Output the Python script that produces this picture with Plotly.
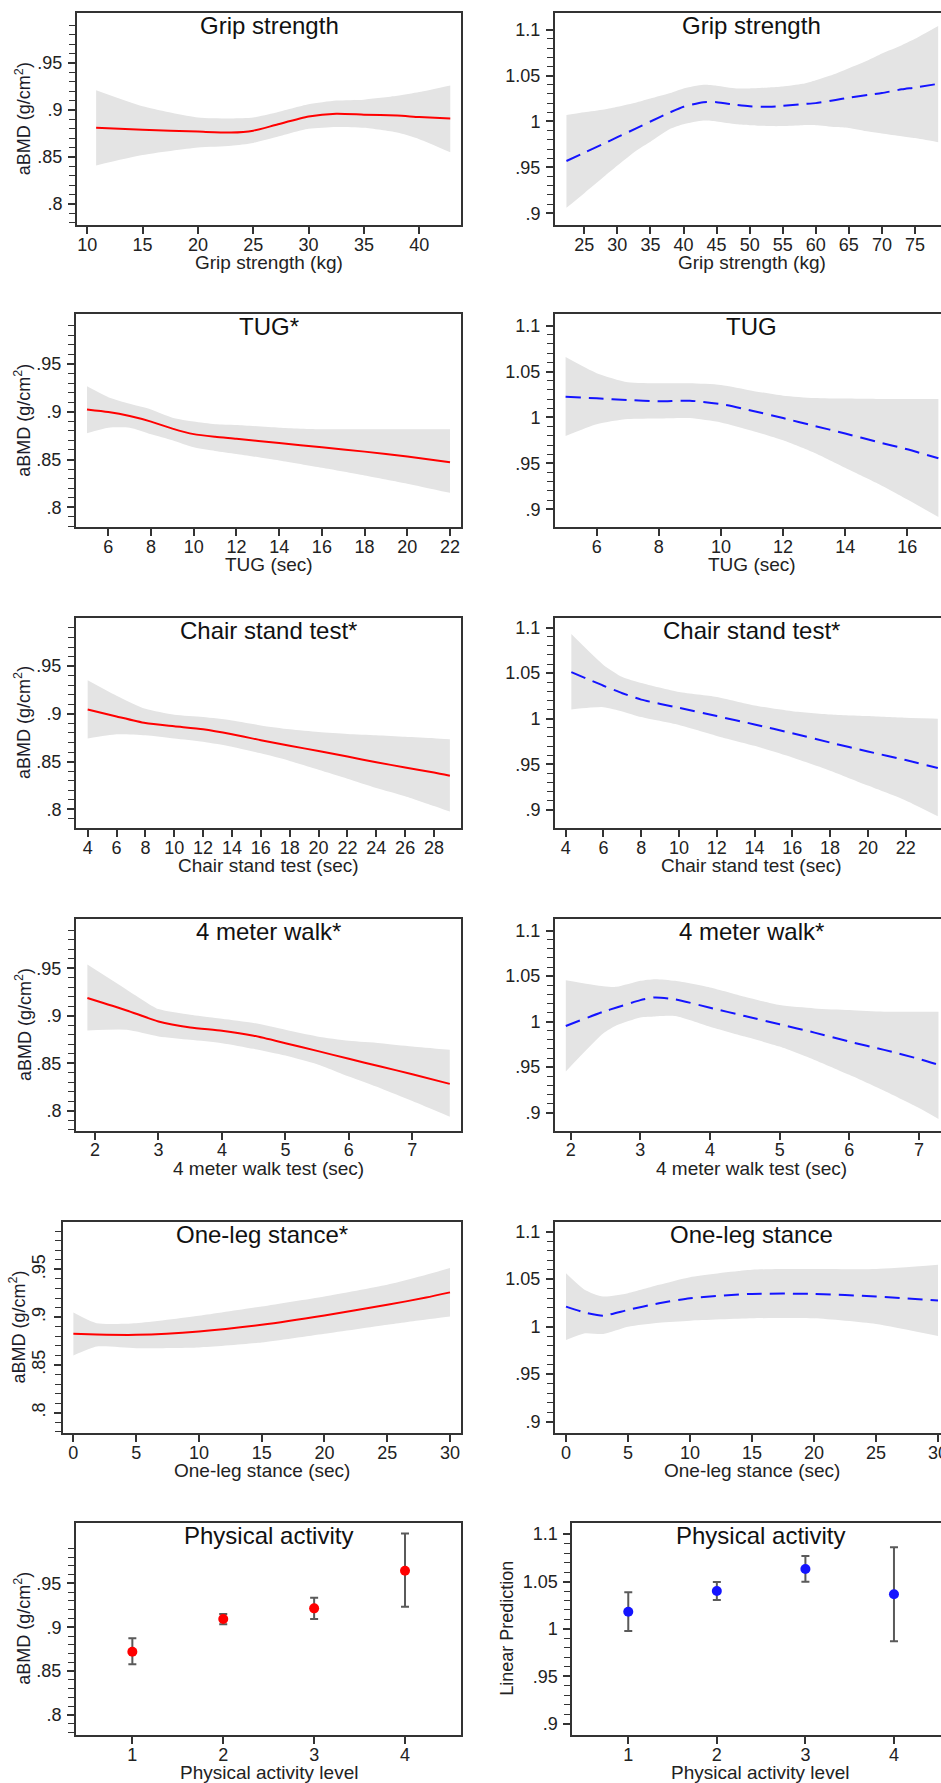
import plotly.graph_objects as go

# ---------------------------------------------------------------- data
# Grip strength
grip_l_x = [10.8, 15, 20, 23, 25, 27, 30, 32.5, 35, 38, 40, 42.8]
grip_l_fit = [.881, .879, .877, .876, .878, .884, .893, .896, .895, .894, .8925, .891]
grip_l_hi = [.921, .904, .892, .891, .892, .897, .906, .910, .911, .915, .919, .926]
grip_l_lo = [.841, .852, .860, .862, .865, .871, .880, .882, .881, .876, .869, .855]

grip_r_x = [22.3, 25, 28, 30, 33, 35, 38, 40, 43, 45, 48, 50, 53, 55, 58, 60, 63, 65, 68, 70, 73, 75, 78.5]
grip_r_fit = [.957, .966, .976, .983, .993, 1.0, 1.010, 1.016, 1.021, 1.021, 1.018, 1.0165, 1.016, 1.017,
              1.019, 1.020, 1.0235, 1.026, 1.029, 1.031, 1.035, 1.037, 1.041]
grip_r_hi = [1.007, 1.010, 1.013, 1.016, 1.021, 1.025, 1.031, 1.036, 1.040, 1.039, 1.036, 1.036, 1.037, 1.038,
             1.041, 1.045, 1.052, 1.058, 1.067, 1.074, 1.083, 1.090, 1.104]
grip_r_lo = [.906, .922, .940, .952, .969, .978, .992, .997, 1.001, 1.000, .997, .996, .995, .995,
             .996, .996, .994, .993, .989, .987, .984, .982, .9775]

# TUG
tug_l_x = [5, 6, 7, 8, 9, 10, 11, 12, 14, 16, 18, 20, 22]
tug_l_fit = [.9024, .8997, .8955, .8897, .8824, .8766, .8738, .8717, .8672, .8628, .8583, .8531, .8472]
tug_l_hi = [.9266, .9152, .9083, .9024, .8938, .8897, .887, .8862, .8834, .8817, .8817, .8817, .8817]
tug_l_lo = [.8776, .8834, .8834, .8766, .8703, .8628, .859, .8559, .849, .8414, .8334, .8248, .8152]

tug_r_x = [5, 6, 7, 8, 9, 10, 11, 12, 13, 14, 15, 16, 17]
tug_r_fit = [1.0226, 1.0208, 1.019, 1.0175, 1.0182, 1.0146, 1.0073, .9993, .9909, .9825, .9737, .9653, .9555]
tug_r_hi = [1.0657, 1.0482, 1.0383, 1.0372, 1.0372, 1.0354, 1.0292, 1.0237, 1.0212, 1.0205, 1.0201, 1.0201, 1.0201]
tug_r_lo = [.9799, .9927, .9982, .9989, .9993, .9945, .9854, .9752, .9617, .9453, .9288, .9106, .8916]

# Chair stand test
chair_l_x = [4, 6, 8, 10, 12, 14, 16, 18, 20, 22, 24, 26, 28, 29.1]
chair_l_fit = [.9045, .8972, .8903, .8869, .8838, .8786, .8724, .8666, .861, .8552, .8493, .8438, .8386, .8352]
chair_l_hi = [.9352, .919, .9052, .899, .8966, .8931, .8879, .8838, .881, .879, .8776, .876, .8745, .8734]
chair_l_lo = [.8741, .8786, .8776, .8741, .8707, .8655, .8586, .8507, .8414, .8321, .8224, .8138, .8035, .7976]

chair_r_x = [4.3, 6, 7, 8, 10, 12, 14, 16, 18, 20, 22, 23.7]
chair_r_fit = [1.0511, 1.0362, 1.028, 1.021, 1.012, 1.0029, .9938, .9841, .9739, .9641, .9547, .946]
chair_r_hi = [1.0928, 1.059, 1.0457, 1.0391, 1.0293, 1.0239, 1.0145, 1.0083, 1.0047, 1.0029, 1.001, 1.0]
chair_r_lo = [1.0101, 1.0127, 1.008, 1.0018, .9931, .9812, .9703, .9576, .9431, .9268, .9105, .8931]

# 4 meter walk
walk_l_x = [1.88, 2.5, 3, 3.5, 4, 4.5, 5, 5.5, 6, 6.5, 7, 7.59]
walk_l_fit = [.9187, .9056, .894, .8877, .8842, .8789, .8711, .863, .8546, .8465, .8384, .8282]
walk_l_hi = [.9539, .9275, .907, .9011, .8968, .8923, .8852, .8782, .8736, .8711, .8676, .8641]
walk_l_lo = [.8845, .8852, .8782, .8746, .8711, .8651, .8581, .8489, .8359, .8236, .8102, .7937]

walk_r_x = [1.93, 2.47, 2.66, 3, 3.21, 3.5, 4, 4.5, 5, 5.5, 6, 6.5, 7, 7.28]
walk_r_fit = [.9953, 1.011, 1.0155, 1.0237, 1.0266, 1.0245, 1.0153, 1.0062, .9971, .988, .9781, .969, .9591, .9526]
walk_r_hi = [1.0456, 1.039, 1.0383, 1.0449, 1.0467, 1.0449, 1.0376, 1.0274, 1.0182, 1.0146, 1.0128, 1.0109, 1.0109, 1.0109]
walk_r_lo = [.9453, .9872, .996, 1.0047, 1.0058, 1.0062, .9945, .9836, .9726, .958, .9416, .9241, .9051, .8931]

# One-leg stance
leg_l_x = [0, 1.86, 5, 10, 15, 20, 25, 28.1, 30]
leg_l_fit = [.8825, .8818, .8815, .885, .892, .9017, .9129, .9205, .9259]
leg_l_hi = [.9049, .8937, .8937, .9014, .9112, .9217, .9339, .9444, .9514]
leg_l_lo = [.8598, .8692, .8675, .8682, .8734, .8825, .892, .8975, .9007]

leg_r_x = [0, 1.53, 3.0, 5, 7.5, 10, 15, 20, 25, 30]
leg_r_fit = [1.0211, 1.0148, 1.0116, 1.0176, 1.0246, 1.0299, 1.0345, 1.0345, 1.0317, 1.0275]
leg_r_hi = [1.0563, 1.0387, 1.0317, 1.0352, 1.044, 1.0521, 1.0599, 1.0606, 1.0606, 1.0651]
leg_r_lo = [.9859, .993, .9923, 1.0, 1.0042, 1.0063, 1.0088, 1.0088, 1.0028, .9901]

# Physical activity
pa_levels = [1, 2, 3, 4]
pa_l_mean = [.8721, .9094, .9215, .9644]
pa_l_lo = [.8577, .9033, .9094, .9234]
pa_l_hi = [.8873, .9151, .9337, 1.0069]
pa_r_mean = [1.0182, 1.0400, 1.0632, 1.0365]
pa_r_lo = [.9979, 1.0305, 1.0498, .9870]
pa_r_hi = [1.0386, 1.0495, 1.0768, 1.0860]

# tick labels
left_yticks = [.8, .85, .9, .95]
left_yticktext = [".8", ".85", ".9", ".95"]
right_yticks = [.9, .95, 1.0, 1.05, 1.1]
right_yticktext = [".9", ".95", "1", "1.05", "1.1"]

panel_titles = ["Grip strength", "Grip strength", "TUG*", "TUG", "Chair stand test*", "Chair stand test*",
                "4 meter walk*", "4 meter walk*", "One-leg stance*", "One-leg stance",
                "Physical activity", "Physical activity"]
x_titles = ["Grip strength (kg)", "TUG (sec)", "Chair stand test (sec)", "4 meter walk test (sec)",
            "One-leg stance (sec)", "Physical activity level"]
y_title_left = "aBMD (g/cm<sup>2</sup>)"
y_title_pa_right = "Linear Prediction"

# ---------------------------------------------------------------- style / geometry
W, H = 941, 1783
FONT = "Liberation Sans, Arial, Helvetica, sans-serif"
AX = "#333333"
BAND = "#e4e4e4"
RED = "#ff0000"
BLUE = "#1414ff"

rows = [(13.3, 225.0), (314.3, 527.3), (617.5, 828.3), (919.3, 1130.7), (1221.7, 1433.3), (1522.7, 1735.0)]
left_L = [77, 76, 76, 76, 62.7, 76]
LEFT_R = 461
right_L = [555, 555, 555, 555, 555, 572.3]
RIGHT_VIRTUAL_R = 948.5

xranges = [
    ([9.07, 43.77], [20.57, 78.93]),
    ([4.486, 22.515], [4.659, 17.084]),
    ([3.191, 29.871], [3.435, 23.870]),
    ([1.7007, 7.767], [1.775, 7.316]),
    ([-0.850, 30.876], [-0.887, 30.24]),
    ([0.380, 4.616], [0.368, 4.531]),
]
yranges = [
    ([0.7777, 1.0028], [0.8873, 1.1178]),
    ([0.7791, 1.0020], [0.8804, 1.1123]),
    ([0.7801, 1.0009], [0.8799, 1.1110]),
    ([0.7789, 1.0016], [0.8802, 1.1125]),
    ([0.7784, 0.9999], [0.8877, 1.1105]),
    ([0.7772, 1.0191], [0.8884, 1.1119]),
]
xticks = [
    ((10, 5), (25, 5)),
    ((6, 2), (6, 2)),
    ((4, 2), (4, 2)),
    ((2, 1), (2, 1)),
    ((0, 5), (0, 5)),
    ((1, 1), (1, 1)),
]

left_minor = [round(0.78 + 0.01 * i, 2) for i in range(22)]
right_minor = [round(0.90 + 0.01 * i, 2) for i in range(21)]

curves = [
    ((grip_l_x, grip_l_fit, grip_l_lo, grip_l_hi), (grip_r_x, grip_r_fit, grip_r_lo, grip_r_hi)),
    ((tug_l_x, tug_l_fit, tug_l_lo, tug_l_hi), (tug_r_x, tug_r_fit, tug_r_lo, tug_r_hi)),
    ((chair_l_x, chair_l_fit, chair_l_lo, chair_l_hi), (chair_r_x, chair_r_fit, chair_r_lo, chair_r_hi)),
    ((walk_l_x, walk_l_fit, walk_l_lo, walk_l_hi), (walk_r_x, walk_r_fit, walk_r_lo, walk_r_hi)),
    ((leg_l_x, leg_l_fit, leg_l_lo, leg_l_hi), (leg_r_x, leg_r_fit, leg_r_lo, leg_r_hi)),
]


def px(x):
    return x / W


def py(y):
    return 1 - y / H


fig = go.Figure()
layout = dict(
    width=W, height=H, margin=dict(l=0, r=0, t=0, b=0, autoexpand=False),
    paper_bgcolor="white", plot_bgcolor="white", showlegend=False,
    font=dict(family=FONT, color="#222222"),
)
annotations = []

n = 0
for r in range(6):
    top, bot = rows[r]
    for side in range(2):
        n += 1
        xa = "x" if n == 1 else f"x{n}"
        ya = "y" if n == 1 else f"y{n}"
        if side == 0:
            L, R = left_L[r], LEFT_R
            cx = (L + R) / 2
        else:
            L, R = right_L[r], W
            cx = (L + RIGHT_VIRTUAL_R) / 2
        t0, dt = xticks[r][side]
        layout["xaxis" if n == 1 else f"xaxis{n}"] = dict(
            domain=[px(L), px(R)], anchor=ya, range=xranges[r][side],
            tickmode="linear", tick0=t0, dtick=dt,
            ticks="outside", ticklen=7, tickwidth=1.5, tickcolor=AX,
            ticklabelstandoff=-5, ticklabeloverflow="allow",
            showline=True, linewidth=2, linecolor=AX, mirror=True,
            showgrid=False, zeroline=False,
            tickfont=dict(size=18, color="#222222", family=FONT),
        )
        ya_dict = dict(
            domain=[py(bot), py(top)], anchor=xa, range=yranges[r][side],
            tickmode="array",
            tickvals=left_yticks if side == 0 else right_yticks,
            ticktext=left_yticktext if side == 0 else right_yticktext,
            ticks="outside", ticklen=7, tickwidth=1.5, tickcolor=AX,
            ticklabelstandoff=2,
            minor=dict(tickvals=left_minor if side == 0 else right_minor, ticks="outside",
                       ticklen=6, tickwidth=1.2, tickcolor=AX, showgrid=False),
            showline=True, linewidth=2, linecolor=AX, mirror=(side == 0),
            showgrid=False, zeroline=False,
            tickfont=dict(size=18, color="#222222", family=FONT),
        )
        if r == 4 and side == 0:
            ya_dict["tickangle"] = -90
        layout["yaxis" if n == 1 else f"yaxis{n}"] = ya_dict

        # data traces
        if r < 5:
            cx_, fit, lo, hi = curves[r][side]
            fig.add_trace(go.Scatter(x=cx_, y=lo, xaxis=xa, yaxis=ya, mode="lines",
                                     line=dict(width=0, shape="spline", smoothing=0.6),
                                     hoverinfo="skip"))
            fig.add_trace(go.Scatter(x=cx_, y=hi, xaxis=xa, yaxis=ya, mode="lines", fill="tonexty",
                                     fillcolor=BAND, line=dict(width=0, shape="spline", smoothing=0.6),
                                     hoverinfo="skip"))
            if side == 0:
                ln = dict(color=RED, width=2, shape="spline", smoothing=0.6)
            else:
                ln = dict(color=BLUE, width=2, dash="15px,8px", shape="spline", smoothing=0.6)
            fig.add_trace(go.Scatter(x=cx_, y=fit, xaxis=xa, yaxis=ya, mode="lines", line=ln))
        else:
            mean = pa_l_mean if side == 0 else pa_r_mean
            lo = pa_l_lo if side == 0 else pa_r_lo
            hi = pa_l_hi if side == 0 else pa_r_hi
            fig.add_trace(go.Scatter(
                x=pa_levels, y=mean, xaxis=xa, yaxis=ya, mode="markers",
                marker=dict(color=RED if side == 0 else BLUE, size=10),
                error_y=dict(type="data", symmetric=False,
                             array=[h - m for h, m in zip(hi, mean)],
                             arrayminus=[m - l for m, l in zip(mean, lo)],
                             color="#5a5a5a", thickness=2, width=4),
            ))

        # panel title
        annotations.append(dict(text=panel_titles[n - 1], x=px(cx), y=py(top + 12.5), xref="paper", yref="paper",
                                xanchor="center", yanchor="middle", showarrow=False,
                                font=dict(size=24, color="#111111", family=FONT)))
        # x title
        annotations.append(dict(text=x_titles[r], x=px(cx), y=py(bot + 37.5), xref="paper", yref="paper",
                                xanchor="center", yanchor="middle", showarrow=False,
                                font=dict(size=19, color="#222222", family=FONT)))
        # y titles
        if side == 0:
            yx = 18 if r == 4 else 23
            annotations.append(dict(text=y_title_left, x=px(yx), y=py((top + bot) / 2), xref="paper",
                                    yref="paper", xanchor="center", yanchor="middle", textangle=-90,
                                    showarrow=False, font=dict(size=18, color="#1c1c2a", family=FONT)))
        elif r == 5:
            annotations.append(dict(text=y_title_pa_right, x=px(507), y=py((top + bot) / 2), xref="paper",
                                    yref="paper", xanchor="center", yanchor="middle", textangle=-90,
                                    showarrow=False, font=dict(size=18, color="#222222", family=FONT)))

layout["annotations"] = annotations
fig.update_layout(**layout)
fig.write_html("out.html",
               config={"displayModeBar": False},
               post_script="document.body.style.margin='0';document.body.style.overflow='hidden';")
